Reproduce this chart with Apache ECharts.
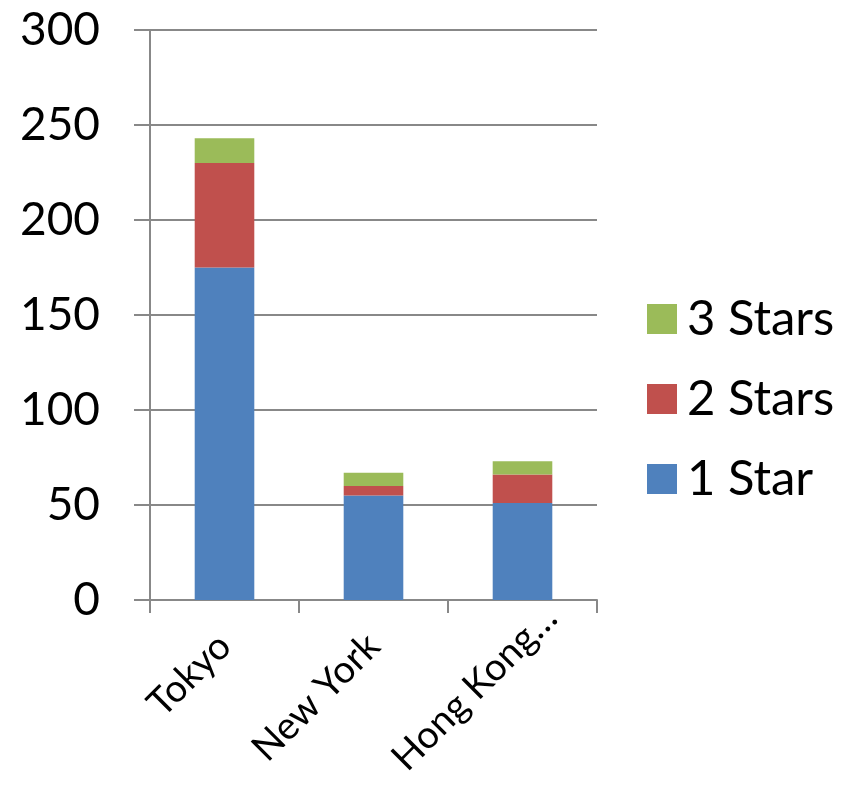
<!DOCTYPE html>
<html lang="en">
<head>
	<meta charset="UTF-8">
	<title>Michelin stars</title>
	<script type="text/javascript" src="https://cdn.jsdelivr.net/npm/echarts@6/dist/echarts.min.js"></script>
	<style>
		html, body { margin: 0; padding: 0; background: #fff; }
		#main { width: 845px; height: 786px; }
	</style>
</head>
<body>
	<div id="main"></div>
	<script type="text/javascript">
	var cities = ['Tokyo', 'New York', 'Hong Kong\u2026'];
	var oneStar = [175, 55, 51];
	var twoStars = [55, 5, 15];
	var threeStars = [13, 7, 7];
	var yTicks = [0, 50, 100, 150, 200, 250, 300];

	var myChart = echarts.init(document.getElementById('main'));
	var font = 'Lato, "Open Sans", sans-serif';
	var gray = '#888888';

	// the last label sits a bit further along its slant in the original
	var cityItems = cities.map(function (c, i) {
		if (i === cities.length - 1) {
			return { value: c, textStyle: { padding: [0, -40, 0, 0] } };
		}
		return c;
	});

	option = {
		animation: false,
		textStyle: { fontFamily: font },
		color: ['#4F81BD', '#C0504D', '#9BBB59'],
		grid: { left: 150, right: 248, top: 30, bottom: 186, containLabel: false, outerBoundsMode: 'none' },
		legend: {
			orient: 'vertical',
			left: 642,
			top: 289,
			itemWidth: 30,
			itemHeight: 30,
			itemGap: 30,
			icon: 'rect',
			data: ['3 Stars', '2 Stars', '1 Star'],
			textStyle: { fontSize: 49, lineHeight: 50, color: '#000', fontFamily: font, padding: [0, 0, 0, 5] }
		},
		xAxis: {
			type: 'category',
			data: cityItems,
			axisLine: { lineStyle: { color: gray, width: 2 } },
			axisTick: { show: true, length: 13, alignWithLabel: false, lineStyle: { color: gray, width: 2 } },
			axisLabel: { rotate: 45, fontSize: 38, color: '#000', margin: 40, fontFamily: font }
		},
		yAxis: {
			type: 'value',
			min: yTicks[0],
			max: yTicks[yTicks.length - 1],
			interval: 50,
			axisLine: { show: true, lineStyle: { color: gray, width: 2 } },
			axisTick: { show: true, length: 16, lineStyle: { color: gray, width: 2 } },
			splitLine: { lineStyle: { color: gray, width: 2 } },
			axisLabel: { fontSize: 46, color: '#000', margin: 50, fontFamily: font }
		},
		series: [
			{ name: '1 Star', type: 'bar', stack: 'a', barWidth: '40%', data: oneStar },
			{ name: '2 Stars', type: 'bar', stack: 'a', barWidth: '40%', data: twoStars },
			{ name: '3 Stars', type: 'bar', stack: 'a', barWidth: '40%', data: threeStars }
		]
	};
	if (option && typeof option === "object") {
		myChart.setOption(option);
	}
	</script>
</body>
</html>
